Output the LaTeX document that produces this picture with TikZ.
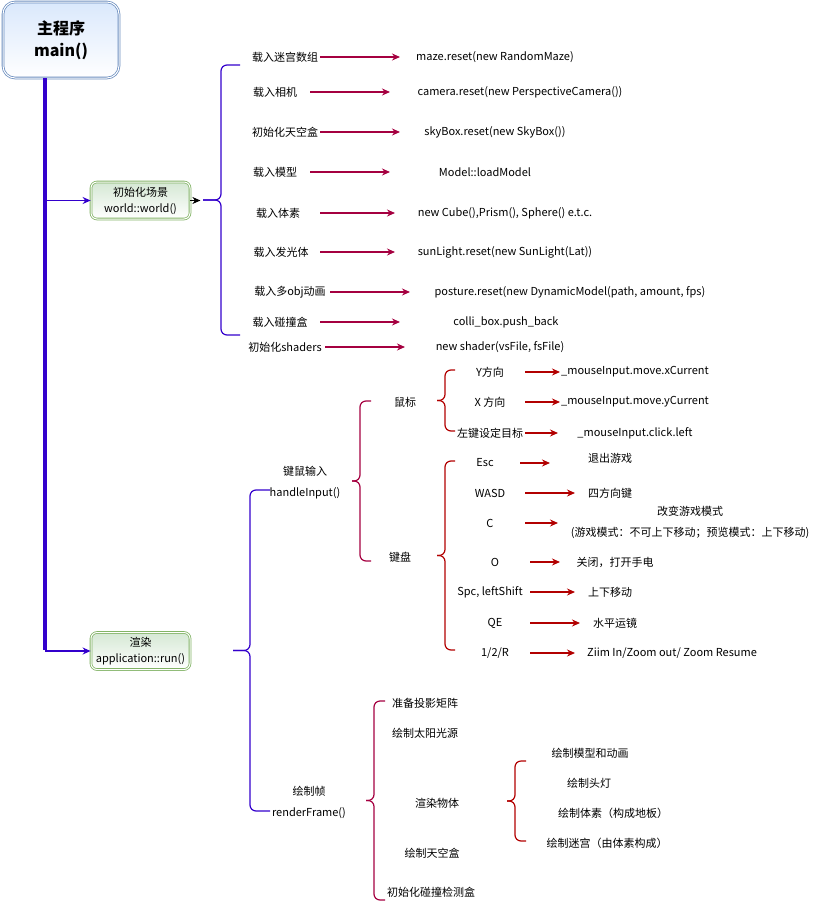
\documentclass[tikz,border=0pt]{standalone}
\usepackage{fontspec}
\setmainfont{Noto Sans CJK SC}
\usetikzlibrary{positioning,arrows.meta}
\definecolor{trunk}{HTML}{3300CC}
\definecolor{crim}{HTML}{A50040}
\definecolor{dred}{HTML}{B20000}
\definecolor{bbord}{HTML}{6C8EBF}
\definecolor{bfill}{HTML}{DAE8FC}
\definecolor{gbord}{HTML}{82B366}
\definecolor{gfill}{HTML}{D5E8D4}
\tikzset{
  txt/.style={inner sep=0pt, align=center, font=\fontsize{11}{21}\selectfont},
  mainbox/.style={rectangle, rounded corners=12pt, minimum width=116pt, minimum height=76pt, draw=bbord, line width=0.8pt, double=white, double distance=1pt, top color=bfill, bottom color=white, align=center, font=\fontsize{16}{22}\selectfont\bfseries},
  fnbox/.style={rectangle, rounded corners=6pt, minimum width=99pt, minimum height=37pt, inner sep=1pt, draw=gbord, line width=0.8pt, double=white, double distance=1pt, top color=gfill, bottom color=white, align=center, font=\fontsize{11}{16}\selectfont},
  barr/.style={-{Stealth[length=8pt,width=7pt]}, trunk, line width=1.2pt},
  warr/.style={-{Stealth[length=8pt,width=7pt]}, crim, line width=1.2pt},
  karr/.style={-{Stealth[length=8pt,width=7pt]}, dred, line width=1.2pt},
  brc/.style={line width=1.2pt, rounded corners=6pt}
}
% curly bracket: colour, tip x, spine x, end x, top y, bottom y
\newcommand\grpbrace[6]{%
  \draw[brc,#1] (#4,#5) -- (#3,#5) -- (#3,{(#5+#6)/2}) -- (#2,{(#5+#6)/2});
  \draw[brc,#1] (#4,#6) -- (#3,#6) -- (#3,{(#5+#6)/2}) -- (#2,{(#5+#6)/2});}

\begin{document}
\begin{tikzpicture}[x=1pt, y=-1pt]
\useasboundingbox (0,0) rectangle (821,902);

\node[mainbox] (main) at (61,40) {主程序\\main()};
\coordinate (tr) at (45,650);
\draw[trunk, line width=4pt] (main.south -| tr) -- (tr);

\node[fnbox] (world) at (140.5,200.5) {初始化场景\\world::world()};
\node[fnbox] (render) at (140.5,651) {渲染\\application::run()};
\draw[barr] (world.west -| tr) -- (world.west);
\draw[barr] (render.west -| tr) -- (render.west);
\draw[-{Stealth[length=8pt,width=7pt]}, line width=1pt] (world.east) -- ++(10,0);

% scene setup
\grpbrace{trunk}{203}{221}{240}{65}{335}
\foreach \i/\y/\lx/\lab/\sx/\ex/\tx/\tgt in {
  1/57/285/载入迷宫数组/320/400/495/{maze.reset(new RandomMaze)},
  2/92/275/载入相机/310/390/520/{camera.reset(new PerspectiveCamera())},
  3/132/285/初始化天空盒/320/400/495/{skyBox.reset(new SkyBox())},
  4/172/275/载入模型/310/390/485/{Model::loadModel},
  5/213/278/载入体素/320/395/505/{new Cube(),Prism(), Sphere() e.t.c.},
  6/252/281/载入发光体/320/395/505/{sunLight.reset(new SunLight(Lat))},
  7/292/290/载入多obj动画/330/410/570/{posture.reset(new DynamicModel(path, amount, fps)},
  8/322/280/载入碰撞盒/320/400/506/{colli\_box.push\_back},
  9/347/285/初始化shaders/325/405/500/{new shader(vsFile, fsFile)}}
{
  \node[txt] (w\i) at (\lx,\y) {\lab};
  \node[txt] (wt\i) at (\tx,\y) {\tgt};
  \draw[warr] (w\i.east -| \sx,0) -- (wt\i.west -| \ex,0);
}

% render loop
\grpbrace{trunk}{233}{250}{270}{490}{811}
\node[txt] (input) at (305,483) {键鼠输入\\handleInput()};
\node[txt] (frame) at (309,802) {绘制帧\\renderFrame()};
\grpbrace{crim}{352}{360}{371}{401}{561}
\node[txt] (mouse) at (405,402) {鼠标};
\node[txt] (keys) at (400,557) {键盘};
\grpbrace{dred}{437}{445}{455}{370}{431}
\grpbrace{dred}{437}{445}{455}{461}{650}

\foreach \i/\y/\lab/\sx/\ex/\tgt in {
  1/372/Y方向/525/560/{\_mouseInput.move.xCurrent},
  2/402/X 方向/525/560/{\_mouseInput.move.yCurrent},
  3/433/左键设定目标/525/558/{\_mouseInput.click.left}}
{
  \node[txt] (m\i) at (490,\y) {\lab};
  \node[txt] (mt\i) at (635,\y) {\tgt};
  \draw[karr] (m\i.east -| \sx,0) -- (m\i.east -| \ex,0);
}

\foreach \i/\y/\lx/\lab/\sx/\ex/\tx/\ty/\tgt in {
  1/463/485/Esc/520/550/610/458/退出游戏,
  2/493/490/WASD/525/575/610/493/四方向键,
  3/523/490/C/525/558/690/522.5/{改变游戏模式\\(游戏模式：不可上下移动；预览模式：上下移动)},
  4/562/495/O/530/560/615/562/关闭，打开手电,
  5/592/490/{Spc, leftShift}/530/575/610/592/上下移动,
  6/623/495/QE/530/580/615/623/水平运镜,
  7/653/495/{1/2/R}/530/575/672/653/{Ziim In/Zoom out/ Zoom Resume}}
{
  \node[txt] (k\i) at (\lx,\y) {\lab};
  \node[txt] (kt\i) at (\tx,\ty) {\tgt};
  \draw[karr] (k\i.east -| \sx,0) -- (k\i.east -| \ex,0);
}

% frame drawing
\grpbrace{crim}{366}{374}{385}{701}{900}
\node[txt] (r1) at (425,703) {准备投影矩阵};
\node[txt] (r2) at (425,733) {绘制太阳光源};
\node[txt] (r3) at (437,803) {渲染物体};
\node[txt] (r4) at (432,853) {绘制天空盒};
\node[txt] (r5) at (431,892) {初始化碰撞检测盒};
\grpbrace{dred}{507}{515}{526}{761}{841}
\node[txt] (o1) at (590,753) {绘制模型和动画};
\node[txt] (o2) at (589,783) {绘制头灯};
\node[txt] (o3) at (613,813) {绘制体素（构成地板）};
\node[txt] (o4) at (607,843) {绘制迷宫（由体素构成）};
\end{tikzpicture}
\end{document}
